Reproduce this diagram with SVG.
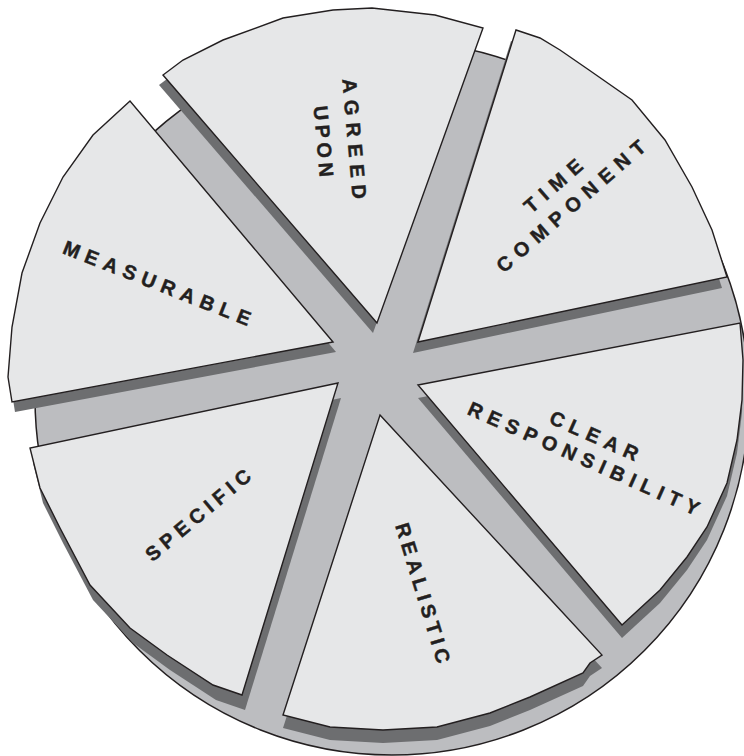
<svg xmlns="http://www.w3.org/2000/svg" width="744" height="756" viewBox="0 0 744 756">
<style>
.base{fill:#bcbdc0;stroke:#231f20;stroke-width:1.5}
.sh{fill:#6d6e70}
.sl{fill:#e6e7e8;stroke:#231f20;stroke-width:1.4;stroke-linejoin:miter}
.t{font-family:"Liberation Sans",Arial,sans-serif;font-weight:bold;font-size:20px;fill:#231f20;stroke:#231f20;stroke-width:0.45;text-anchor:middle}
</style>
<defs>
<path id="pA" d="M377,323 L163,75 L183,60 L223,40 L283,18 L333,10 L372,8 L435,15 L483,28 Z"/>
<path id="pT" d="M418,342 L516,30 L540,38 L560,50 L589,70 L632,100 L665,140 L692,187 L712,230 L727,277 Z"/>
<path id="pC" d="M418,385 L740,323 L743,360 L742,400 L737,440 L727,483 L707,527 L687,557 L660,590 L622,625 Z"/>
<path id="pR" d="M380,415 L602,655 L590,663 L583,673 L530,697 L490,713 L437,727 L383,730 L330,727 L283,715 Z"/>
<path id="pS" d="M338,383 L30,448 L40,488 L60,528 L90,585 L130,628 L167,655 L213,685 L242,695 Z"/>
<path id="pM" d="M333,342 L130,101 L93,135 L63,177 L40,223 L22,273 L12,327 L8,377 L12,402 Z"/>
</defs>
<g id="base">
<circle class="base" cx="392" cy="398" r="357"/>
</g>
<g id="shadows">
<use href="#pA" class="sh" transform="translate(-4,10)"/>
<use href="#pT" class="sh" transform="translate(-5,11)"/>
<use href="#pC" class="sh" transform="translate(0,13)"/>
<use href="#pR" class="sh" transform="translate(0,13)"/>
<use href="#pS" class="sh" transform="translate(3,15)"/>
<use href="#pM" class="sh" transform="translate(3,10)"/>
</g>
<g id="agreed-upon">
<use href="#pA" class="sl"/>
<g transform="translate(339,140) rotate(85)">
<text class="t" letter-spacing="7" x="3.5" y="-8.5">AGREED</text>
<text class="t" letter-spacing="4.5" x="2.25" y="22.5">UPON</text>
</g>
</g>
<g id="time-component">
<use href="#pT" class="sl"/>
<g transform="translate(562,196) rotate(-41)" letter-spacing="7.5">
<text class="t" x="3.75" y="-6.5">TIME</text>
<text class="t" x="3.75" y="20.5">COMPONENT</text>
</g>
</g>
<g id="clear-responsibility">
<use href="#pC" class="sl"/>
<g transform="translate(589,447) rotate(24)" letter-spacing="6.5">
<text class="t" x="3.25" y="-5.5">CLEAR</text>
<text class="t" x="3.25" y="19.5">RESPONSIBILITY</text>
</g>
</g>
<g id="realistic">
<use href="#pR" class="sl"/>
<text class="t" letter-spacing="5" transform="translate(423,593) rotate(73)" x="2.5" y="7">REALISTIC</text>
</g>
<g id="specific">
<use href="#pS" class="sl"/>
<text class="t" letter-spacing="5.5" transform="translate(198,515) rotate(-40)" x="2.75" y="7">SPECIFIC</text>
</g>
<g id="measurable">
<use href="#pM" class="sl"/>
<text class="t" letter-spacing="6.5" transform="translate(157,283) rotate(21.5)" x="3.25" y="7">MEASURABLE</text>
</g>
</svg>
